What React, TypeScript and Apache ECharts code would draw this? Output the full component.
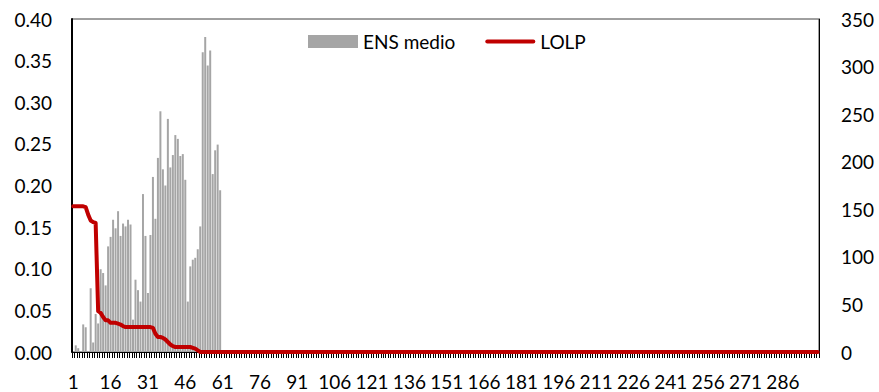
import React, { useEffect, useRef } from "react";
import * as echarts from "echarts";

// Period labels 1..300 on the category axis
const periodCount = 300;
const periods: string[] = Array.from({ length: periodCount }, (_, i) => String(i + 1));

// ENS medio (right axis) for the first 60 periods; the rest are zero
const ensActive = [
  0, 7, 4, 0, 29, 26, 0, 67, 10, 40,
  30, 87, 83, 70, 111, 121, 139, 130, 148, 122,
  135, 132, 139, 134, 34, 76, 65, 53, 166, 122,
  62, 123, 184, 140, 204, 253, 192, 175, 245, 194,
  207, 228, 224, 206, 208, 181, 53, 90, 97, 99,
  108, 132, 315, 331, 301, 317, 187, 212, 218, 170,
];
const ensMedio = [...ensActive, ...new Array(periodCount - ensActive.length).fill(0)];

// LOLP (left axis) for the first 52 periods; the rest are zero
const lolpActive = [
  0.175, 0.175, 0.175, 0.175, 0.175, 0.174, 0.165, 0.158, 0.156, 0.155,
  0.049, 0.047, 0.042, 0.038, 0.038, 0.035, 0.035, 0.035, 0.034, 0.033,
  0.031, 0.030, 0.030, 0.030, 0.030, 0.030, 0.030, 0.030, 0.030, 0.030,
  0.030, 0.030, 0.029, 0.022, 0.018, 0.018, 0.017, 0.015, 0.012, 0.009,
  0.007, 0.006, 0.006, 0.006, 0.006, 0.006, 0.006, 0.006, 0.005, 0.004,
  0.002, 0,
];
const lolp = [...lolpActive, ...new Array(periodCount - lolpActive.length).fill(0)];

const leftTicks = { min: 0, max: 0.4, interval: 0.05 };
const rightTicks = { min: 0, max: 350, interval: 50 };

const FONT = "Lato";
const TEXT_COLOR = "#000";

export default function App() {
  const ref = useRef<HTMLDivElement>(null);

  useEffect(() => {
    if (!ref.current) return;
    const chart = echarts.init(ref.current, null, { renderer: "svg" });
    chart.setOption({
      animation: false,
      backgroundColor: "#fff",
      grid: {
        left: 72,
        right: 60,
        top: 19,
        bottom: 40,
        show: true,
        borderColor: "#404040",
        borderWidth: 1,
      },
      legend: {
        left: 303,
        top: 27,
        itemWidth: 50,
        itemHeight: 13,
        itemGap: 30,
        textStyle: { fontFamily: FONT, fontSize: 19, color: TEXT_COLOR },
        data: [
          { name: "ENS medio", icon: "rect" },
          {
            name: "LOLP",
            icon: "path://M2,0 H48 A2,2 0 0 1 48,4 H2 A2,2 0 0 1 2,0 Z",
          },
        ],
      },
      xAxis: {
        type: "category",
        data: periods,
        boundaryGap: true,
        axisLine: { show: true, lineStyle: { color: "#000", width: 1 } },
        axisTick: { show: true, interval: 0, length: 6, lineStyle: { color: "#000", width: 1 } },
        axisLabel: {
          interval: 14,
          margin: 20,
          fontFamily: FONT,
          fontSize: 19,
          color: TEXT_COLOR,
        },
        splitLine: { show: false },
      },
      yAxis: [
        {
          type: "value",
          position: "left",
          ...leftTicks,
          axisLine: { show: true, lineStyle: { color: "#000", width: 2 } },
          axisTick: { show: false },
          splitLine: { show: false },
          axisLabel: {
            formatter: (v: number) => v.toFixed(2),
            margin: 20,
            fontFamily: FONT,
            fontSize: 19,
            color: TEXT_COLOR,
          },
        },
        {
          type: "value",
          position: "right",
          ...rightTicks,
          axisLine: { show: true, lineStyle: { color: "#000", width: 1 } },
          axisTick: { show: false },
          splitLine: { show: false },
          axisLabel: {
            margin: 22,
            fontFamily: FONT,
            fontSize: 19,
            color: TEXT_COLOR,
          },
        },
      ],
      series: [
        {
          name: "ENS medio",
          type: "bar",
          yAxisIndex: 1,
          data: ensMedio,
          barCategoryGap: "20%",
          itemStyle: { color: "#A5A5A5" },
        },
        {
          name: "LOLP",
          type: "line",
          yAxisIndex: 0,
          data: lolp,
          symbol: "none",
          z: 3,
          itemStyle: { color: "#C00000" },
          lineStyle: { color: "#C00000", width: 4, cap: "round", join: "round" },
        },
      ],
    });
    return () => chart.dispose();
  }, []);

  return (
    <div
      ref={ref}
      style={{ position: "fixed", left: 0, top: 0, width: 879, height: 392 }}
    />
  );
}
